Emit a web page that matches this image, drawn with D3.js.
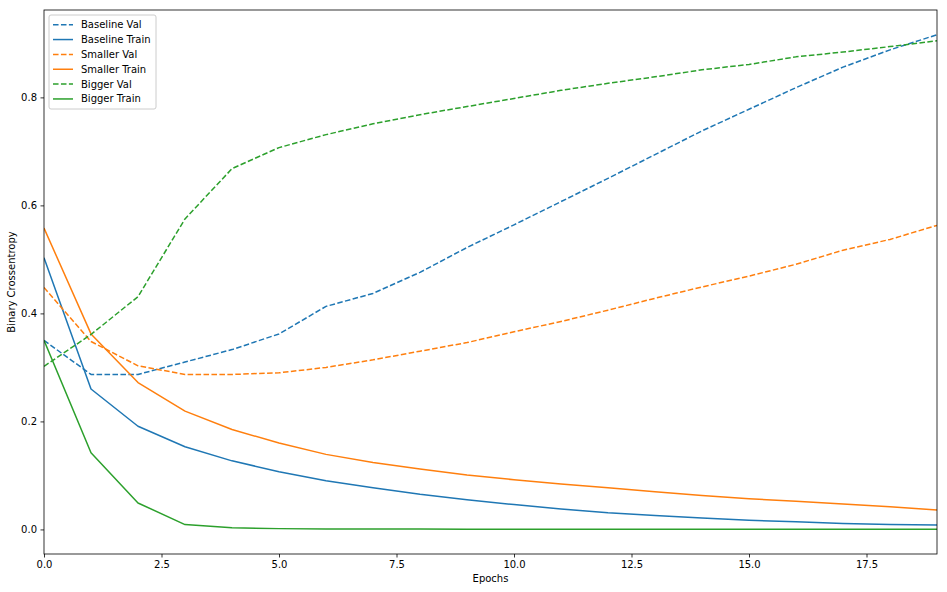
<!DOCTYPE html>
<html>
<head>
<meta charset="utf-8">
<script src="https://cdn.jsdelivr.net/npm/d3@7"></script>
<style>
  html, body { margin: 0; padding: 0; background: #fff; }
  svg { display: block; font-family: "DejaVu Sans", sans-serif; }
</style>
</head>
<body>
<svg id="chart" width="947" height="592"></svg>
<script>
const epochs = d3.range(0, 20);

const baselineVal   = [0.350, 0.287, 0.287, 0.310, 0.333, 0.362, 0.413, 0.437, 0.476, 0.522, 0.564, 0.607, 0.650, 0.694, 0.738, 0.778, 0.818, 0.856, 0.888, 0.916];
const baselineTrain = [0.503, 0.260, 0.191, 0.153, 0.127, 0.107, 0.090, 0.077, 0.065, 0.055, 0.046, 0.038, 0.031, 0.026, 0.021, 0.017, 0.014, 0.011, 0.009, 0.008];
const smallerVal    = [0.448, 0.348, 0.303, 0.287, 0.287, 0.290, 0.300, 0.314, 0.330, 0.346, 0.366, 0.385, 0.406, 0.428, 0.449, 0.469, 0.491, 0.517, 0.537, 0.563];
const smallerTrain  = [0.558, 0.362, 0.272, 0.219, 0.185, 0.160, 0.139, 0.124, 0.112, 0.101, 0.092, 0.084, 0.077, 0.070, 0.063, 0.057, 0.052, 0.047, 0.042, 0.036];
const biggerVal     = [0.302, 0.361, 0.431, 0.575, 0.668, 0.707, 0.731, 0.751, 0.768, 0.783, 0.798, 0.813, 0.826, 0.838, 0.851, 0.861, 0.875, 0.884, 0.894, 0.905];
const biggerTrain   = [0.350, 0.142, 0.049, 0.009, 0.003, 0.0015, 0.0009, 0.0007, 0.0006, 0.0005, 0.0005, 0.0004, 0.0004, 0.0004, 0.0003, 0.0003, 0.0003, 0.0003, 0.0003, 0.0003];

const xTicks = [0, 2.5, 5, 7.5, 10, 12.5, 15, 17.5];
const yTicks = [0, 0.2, 0.4, 0.6, 0.8];

const seriesNames  = ["Baseline Val", "Baseline Train", "Smaller Val", "Smaller Train", "Bigger Val", "Bigger Train"];
const seriesValues = [baselineVal, baselineTrain, smallerVal, smallerTrain, biggerVal, biggerTrain];
const seriesColors = ["#1f77b4", "#1f77b4", "#ff7f0e", "#ff7f0e", "#2ca02c", "#2ca02c"];
const seriesDashed = [true, false, true, false, true, false];

const series = seriesNames.map((name, i) => ({
  name, values: seriesValues[i], color: seriesColors[i], dashed: seriesDashed[i]
}));

const margin = { left: 44, top: 10, right: 10, bottom: 38 };
const W = 947, H = 592;
const pw = W - margin.left - margin.right;
const ph = H - margin.top - margin.bottom;

const svg = d3.select("#chart");
const g = svg.append("g").attr("transform", `translate(${margin.left},${margin.top})`);

const allVals = seriesValues.flat();
const yMin = d3.min(allVals), yMax = d3.max(allVals);
const pad = (yMax - yMin) * 0.05;

const x = d3.scaleLinear().domain([0, 19]).range([0, pw]);
const y = d3.scaleLinear().domain([yMin - pad, yMax + pad]).range([ph, 0]);

g.append("defs").append("clipPath").attr("id", "clip")
  .append("rect").attr("width", pw).attr("height", ph);

const line = d3.line().x((d, i) => x(epochs[i])).y(d => y(d));

const lines = g.append("g").attr("clip-path", "url(#clip)");
series.forEach(s => {
  lines.append("path")
    .datum(s.values)
    .attr("d", line)
    .attr("fill", "none")
    .attr("stroke", s.color)
    .attr("stroke-width", 1.5)
    .attr("stroke-dasharray", s.dashed ? "5.55,2.4" : null)
    .attr("stroke-linejoin", "round");
});

// Axes
const xAxis = d3.axisBottom(x).tickValues(xTicks).tickFormat(d3.format(".1f")).tickSize(3.5).tickPadding(3.5);
const yAxis = d3.axisLeft(y).tickValues(yTicks).tickFormat(d3.format(".1f")).tickSize(3.5).tickPadding(3.5);

const gx = g.append("g").attr("transform", `translate(0,${ph})`).call(xAxis);
const gy = g.append("g").call(yAxis);
[gx, gy].forEach(a => {
  a.select(".domain").remove();
  a.selectAll("line").attr("stroke", "#000").attr("stroke-width", 0.8);
  a.selectAll("text").attr("font-size", 10).attr("fill", "#000").attr("font-family", "DejaVu Sans");
});

// Frame
g.append("rect").attr("x", 0).attr("y", 0).attr("width", pw).attr("height", ph)
  .attr("fill", "none").attr("stroke", "#000").attr("stroke-width", 0.8);

// Axis labels
svg.append("text").attr("x", margin.left + pw / 2).attr("y", H - 10)
  .attr("text-anchor", "middle").attr("font-size", 10).text("Epochs");
svg.append("text")
  .attr("transform", `translate(15,${margin.top + ph / 2}) rotate(-90)`)
  .attr("text-anchor", "middle").attr("font-size", 10).text("Binary Crossentropy");

// Legend
const lg = g.append("g").attr("transform", "translate(5,5)");
lg.append("rect").attr("x", 0).attr("y", 0).attr("width", 107).attr("height", 94)
  .attr("rx", 2).attr("ry", 2)
  .attr("fill", "#fff").attr("fill-opacity", 0.8)
  .attr("stroke", "#cccccc").attr("stroke-width", 1);
series.forEach((s, i) => {
  const yy = 9.7 + i * 14.85;
  lg.append("line").attr("x1", 4).attr("x2", 24).attr("y1", yy).attr("y2", yy)
    .attr("stroke", s.color).attr("stroke-width", 1.5)
    .attr("stroke-dasharray", s.dashed ? "5.55,2.4" : null);
  lg.append("text").attr("x", 32).attr("y", yy).attr("dy", "0.35em")
    .attr("font-size", 10).attr("fill", "#000").text(s.name);
});
</script>
</body>
</html>
